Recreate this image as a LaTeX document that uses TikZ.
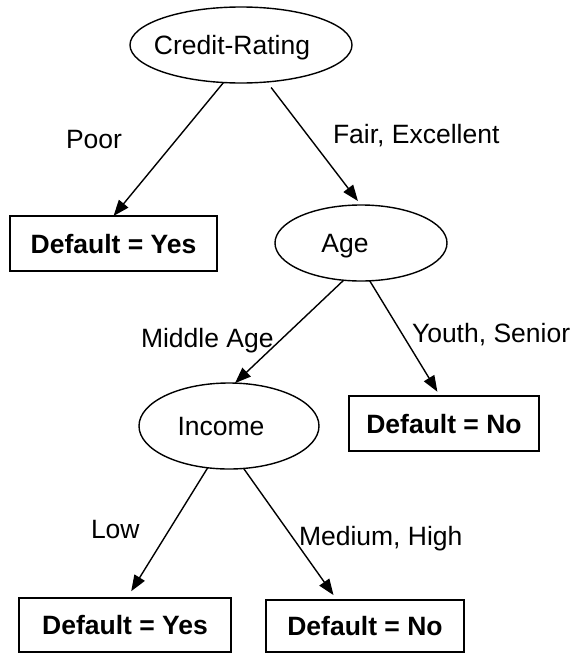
\documentclass[tikz,border=0pt]{standalone}
\usepackage{fontspec}
\setmainfont{Liberation Sans}
\usetikzlibrary{shapes.geometric,arrows.meta,calc}
\begin{document}
\begin{tikzpicture}[x=1pt,y=-1pt,
  every node/.style={font=\fontsize{26.5}{30}\selectfont, inner sep=0pt, outer sep=0pt},
  attr/.style={ellipse, draw, line width=1.4pt, text height=19pt, text depth=0pt},
  leaf/.style={rectangle, draw, line width=1.4pt, font=\fontsize{26.5}{30}\selectfont\bfseries, text height=19pt, text depth=0pt},
  lbl/.style={anchor=base west},
  edge/.style={line width=1.4pt, -{Triangle[length=16pt,width=12pt]}}]
\useasboundingbox (0,0) rectangle (573,653);
\node[attr, minimum width=222pt, minimum height=76pt] (cr) at (241,45) {\kern-18pt Credit-Rating};
\node[attr, minimum width=172pt, minimum height=76pt] (age) at (361,243) {\kern-32pt Age};
\node[attr, minimum width=180pt, minimum height=86pt] (inc) at (229,426) {\kern-16pt Income};
\node[leaf, minimum width=207pt, minimum height=55pt] (yes1) at (113.5,243.5) {Default = Yes};
\node[leaf, minimum width=190pt, minimum height=55pt] (nor) at (444,423.5) {Default = No};
\node[leaf, minimum width=212pt, minimum height=54pt] (yes2) at (125,625) {Default = Yes};
\node[leaf, minimum width=198pt, minimum height=52pt] (no2) at (365,626) {Default = No};
\node[lbl] (lpoor) at (66,148) {Poor};
\node[lbl] (lfair) at (333,143) {Fair, Excellent};
\node[lbl] (lmid) at (141,347) {Middle Age};
\node[lbl] (lyouth) at (412,342) {Youth, Senior};
\node[lbl] (llow) at (91,538) {Low};
\node[lbl] (lmed) at (299,545) {Medium, High};
\draw[edge] (cr.245) -- (yes1.north);
\draw[edge, shorten <=7pt, shorten >=5pt] (cr.-55) -- (age.north);
\draw[edge] (age.245) -- (inc.82);
\draw[edge, shorten >=5pt] (age.-77) -- ($(nor.north)+(-4,0)$);
\draw[edge, shorten >=8pt] (inc.243) -- ($(yes2.north)+(2,0)$);
\draw[edge, shorten >=6pt] (inc.-71) -- ($(no2.north)+(-28,0)$);
\end{tikzpicture}
\end{document}
